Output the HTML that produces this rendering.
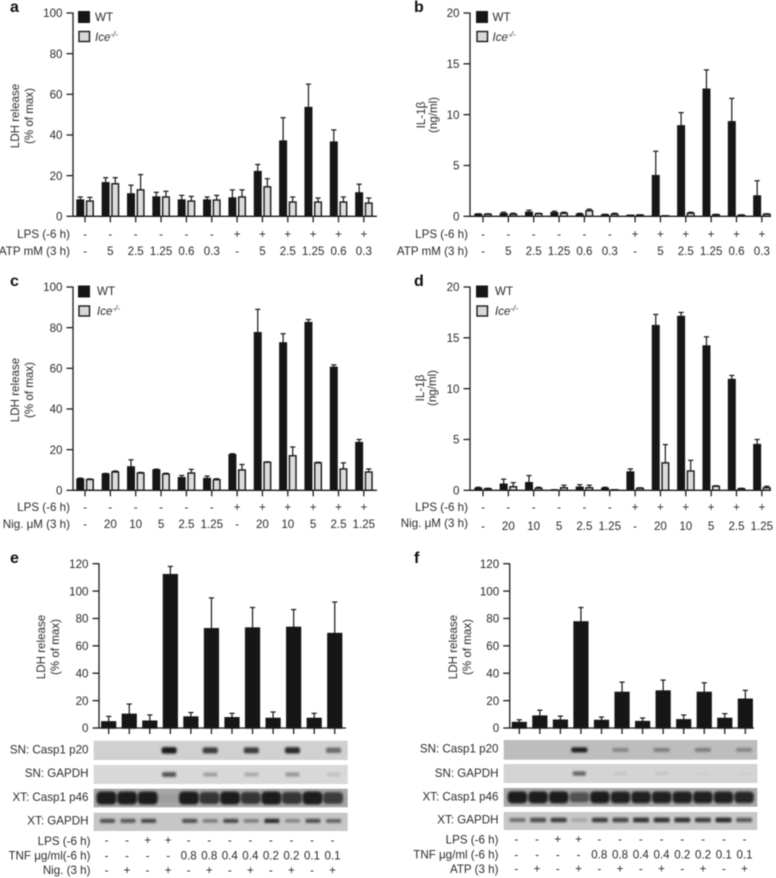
<!DOCTYPE html>
<html lang="en">
<head>
<meta charset="utf-8">
<title>LDH release and IL-1β panels</title>
<style>
html,body{margin:0;padding:0;background:#fff;width:776px;height:878px;overflow:hidden}
svg{display:block;filter:blur(0.5px)}
text{font-family:"Liberation Sans",sans-serif;font-size:11.6px;fill:#2b2b2b}
.letter{font-size:16px;font-weight:bold;fill:#111}
.end{text-anchor:end}
.mid{text-anchor:middle}
</style>
</head>
<body>
<svg id="figure" width="776" height="878" viewBox="0 0 776 878" xmlns="http://www.w3.org/2000/svg">
<defs>
<filter id="soft" x="-50%" y="-100%" width="200%" height="300%"><feGaussianBlur stdDeviation="1"/></filter>
</defs>

<g>
<text class="letter" x="10" y="12">a</text>
<text class="letter" x="414" y="12">b</text>
<text class="letter" x="10" y="286">c</text>
<text class="letter" x="414" y="286">d</text>
<text class="letter" x="10" y="563">e</text>
<text class="letter" x="414" y="563">f</text>
</g>

<g>
<text class="mid" transform="translate(19,116) rotate(-90)">LDH release</text>
<text class="mid" transform="translate(33,116) rotate(-90)">(% of max)</text>
<text class="mid" transform="translate(425,115) rotate(-90)">IL-1β</text>
<text class="mid" transform="translate(437,115) rotate(-90)">(ng/ml)</text>
<text class="mid" transform="translate(19,390) rotate(-90)">LDH release</text>
<text class="mid" transform="translate(33,390) rotate(-90)">(% of max)</text>
<text class="mid" transform="translate(424,388) rotate(-90)">IL-1β</text>
<text class="mid" transform="translate(436,388) rotate(-90)">(ng/ml)</text>
<text class="mid" transform="translate(45,647) rotate(-90)">LDH release</text>
<text class="mid" transform="translate(59,647) rotate(-90)">(% of max)</text>
<text class="mid" transform="translate(457,647) rotate(-90)">LDH release</text>
<text class="mid" transform="translate(471,647) rotate(-90)">(% of max)</text>
</g>

<g>
<rect x="78.5" y="11.5" width="11" height="11" fill="#161616" stroke="#161616"/>
<text x="95" y="21">WT</text>
<rect x="79" y="31.5" width="10.5" height="10" fill="#d9d9d9" stroke="#161616" stroke-width="1.4"/>
<text x="95" y="41" font-style="italic">Ice<tspan dy="-4" font-size="8">-/-</tspan></text>
</g>
<g>
<rect x="476.5" y="11.5" width="11" height="11" fill="#161616" stroke="#161616"/>
<text x="492.5" y="21">WT</text>
<rect x="477" y="31.5" width="10.5" height="10" fill="#d9d9d9" stroke="#161616" stroke-width="1.4"/>
<text x="492.5" y="41" font-style="italic">Ice<tspan dy="-4" font-size="8">-/-</tspan></text>
</g>
<g>
<rect x="78.5" y="286" width="11" height="11" fill="#161616" stroke="#161616"/>
<text x="97" y="295">WT</text>
<rect x="79" y="306" width="10.5" height="10" fill="#d9d9d9" stroke="#161616" stroke-width="1.4"/>
<text x="97" y="315" font-style="italic">Ice<tspan dy="-4" font-size="8">-/-</tspan></text>
</g>
<g>
<rect x="476.5" y="286" width="11" height="11" fill="#161616" stroke="#161616"/>
<text x="495" y="295">WT</text>
<rect x="477" y="306" width="10.5" height="10" fill="#d9d9d9" stroke="#161616" stroke-width="1.4"/>
<text x="495" y="315" font-style="italic">Ice<tspan dy="-4" font-size="8">-/-</tspan></text>
</g>

<g>
<text class="end" x="70" y="238">LPS (-6 h)</text>
<text class="end" x="70" y="255">ATP mM (3 h)</text>
<text class="end" x="468" y="238">LPS (-6 h)</text>
<text class="end" x="468" y="255">ATP mM (3 h)</text>
<text class="end" x="70" y="511">LPS (-6 h)</text>
<text class="end" x="70" y="528">Nig. μM (3 h)</text>
<text class="end" x="468" y="511">LPS (-6 h)</text>
<text class="end" x="468" y="527">Nig. μM (3 h)</text>
<text class="end" x="90.5" y="845">LPS (-6 h)</text>
<text class="end" x="90.5" y="859.5">TNF μg/ml(-6 h)</text>
<text class="end" x="90.5" y="874">Nig. (3 h)</text>
<text class="end" x="498.5" y="843.5">LPS (-6 h)</text>
<text class="end" x="498.5" y="858.5">TNF μg/ml (-6 h)</text>
<text class="end" x="498.5" y="873">ATP (3 h)</text>
</g>

<g>
<text class="end" x="88.5" y="753.5">SN: Casp1 p20</text>
<text class="end" x="88.5" y="777">SN: GAPDH</text>
<text class="end" x="88.5" y="801">XT: Casp1 p46</text>
<text class="end" x="88.5" y="824.5">XT: GAPDH</text>
<text class="end" x="498.5" y="752.5">SN: Casp1 p20</text>
<text class="end" x="498.5" y="777">SN: GAPDH</text>
<text class="end" x="498.5" y="800.5">XT: Casp1 p46</text>
<text class="end" x="498.5" y="823.5">XT: GAPDH</text>
</g>

<g id="marks"></g>
</svg>

<script>
// Chart data
const ticksLdh = [0, 20, 40, 60, 80, 100];
const ticksIl = [0, 5, 10, 15, 20];
const ticksE = [0, 20, 40, 60, 80, 100, 120];

const aWt = [8, 16.5, 11, 9.5, 8, 8, 9, 22, 37, 53.5, 36.5, 11.5];
const aWtTop = [9.5, 19, 15.3, 11.8, 10.3, 9.5, 13, 25.5, 48.5, 65, 42.5, 15.8];
const aIce = [7.5, 16, 13, 9.5, 7.5, 8, 9.5, 14.5, 7, 7, 7, 6.5];
const aIceTop = [9.3, 19, 20.5, 12.3, 9.8, 10.3, 13, 18.5, 9.5, 9, 9.5, 9];

const bWt = [0.2, 0.25, 0.4, 0.35, 0.2, 0.15, 0.1, 4.0, 8.9, 12.5, 9.3, 2.0];
const bWtTop = [0.25, 0.4, 0.6, 0.5, 0.3, 0.2, 0.1, 6.4, 10.2, 14.4, 11.6, 3.5];
const bIce = [0.2, 0.2, 0.25, 0.3, 0.55, 0.2, 0.12, 0.05, 0.3, 0.15, 0.1, 0.2];
const bIceTop = [0.25, 0.3, 0.3, 0.4, 0.7, 0.3, 0.15, 0.05, 0.4, 0.2, 0.15, 0.25];

const cWt = [5.5, 8, 11.5, 10, 6.2, 5.8, 17.5, 77.5, 72.5, 82.5, 60.5, 23.5];
const cWtTop = [6, 8.3, 15, 10.4, 7.3, 7, 18, 89, 77, 84, 61.7, 25];
const cIce = [5.3, 9, 8.5, 8, 8.5, 5.2, 10, 13.8, 17, 13.5, 10.5, 9];
const cIceTop = [5.6, 9.5, 8.8, 8.4, 10.3, 5.7, 12.7, 14, 21.3, 13.8, 13.5, 10.5];

const dWt = [0.2, 0.6, 0.75, 0.03, 0.3, 0.2, 1.8, 16.2, 17.1, 14.2, 10.9, 4.5];
const dWtTop = [0.3, 1.1, 1.45, 0.05, 0.55, 0.3, 2.1, 17.3, 17.5, 15.1, 11.3, 5];
const dIce = [0.15, 0.35, 0.2, 0.25, 0.25, 0.05, 0.2, 2.7, 1.9, 0.4, 0.15, 0.25];
const dIceTop = [0.2, 0.75, 0.3, 0.5, 0.5, 0.05, 0.25, 4.5, 2.95, 0.45, 0.2, 0.4];

const eVals = [4.5, 10, 5, 112, 8, 72.5, 7.5, 73, 7, 73.5, 7, 69];
const eTops = [8.5, 17.5, 9.5, 118, 11.3, 95, 10.7, 88, 11.7, 86.5, 10.7, 92];
const fVals = [4, 8.7, 5.7, 77.5, 5.5, 26, 4.7, 27, 6, 26, 7, 21];
const fTops = [6, 13, 8.7, 88, 8, 33.5, 7.3, 35, 9.5, 33, 10.5, 27.5];

const lpsRow = ['-', '-', '-', '-', '-', '-', '+', '+', '+', '+', '+', '+'];
const atpRow = ['-', '5', '2.5', '1.25', '0.6', '0.3', '-', '5', '2.5', '1.25', '0.6', '0.3'];
const nigRow = ['-', '20', '10', '5', '2.5', '1.25', '-', '20', '10', '5', '2.5', '1.25'];
const lpsRowBlot = ['-', '-', '+', '+', '-', '-', '-', '-', '-', '-', '-', '-'];
const tnfRow = ['-', '-', '-', '-', '0.8', '0.8', '0.4', '0.4', '0.2', '0.2', '0.1', '0.1'];
const stimRow = ['-', '+', '-', '+', '-', '+', '-', '+', '-', '+', '-', '+'];

// Blot band intensities per lane (0 to 1)
const eBlotP20 = [0, 0, 0, 1, 0, 0.8, 0, 0.8, 0, 0.9, 0, 0.55];
const eBlotSnGapdh = [0, 0, 0, 0.7, 0, 0.3, 0, 0.25, 0, 0.35, 0, 0.12];
const eBlotP46 = [1, 1, 1, 0.05, 1, 0.8, 1, 0.8, 1, 0.8, 1, 0.75];
const eBlotXtGapdh = [0.7, 0.65, 0.75, 0, 0.7, 0.45, 0.75, 0.45, 0.9, 0.4, 0.7, 0.6];
const fBlotP20 = [0, 0, 0, 1, 0, 0.35, 0, 0.4, 0, 0.4, 0, 0.35];
const fBlotSnGapdh = [0, 0, 0, 0.6, 0, 0.08, 0, 0.08, 0, 0.03, 0, 0.03];
const fBlotP46 = [1, 1, 1, 0.6, 1, 0.95, 0.95, 0.95, 0.95, 0.95, 0.95, 0.9];
const fBlotXtGapdh = [0.5, 0.7, 0.8, 0.2, 0.8, 0.75, 0.85, 0.85, 0.85, 0.8, 0.9, 0.65];

const NS = 'http://www.w3.org/2000/svg';
const INK = '#161616';
const root = document.getElementById('marks');

function el(parent, tag, attrs, txt) {
  const n = document.createElementNS(NS, tag);
  for (const k in attrs) n.setAttribute(k, attrs[k]);
  if (txt !== undefined) n.textContent = txt;
  parent.appendChild(n);
  return n;
}

function drawAxes(g, o, ticks, xLabelTicks) {
  const yAxis = el(g, 'line', { x1: o.x0, x2: o.x0, y1: o.yTop - 0.5, y2: o.yBase + 0.5, stroke: '#1c1c1c', 'stroke-width': 1.3 });
  
  
  const xAxis = el(g, 'line', { x1: o.x0, x2: o.x1, y1: o.yBase, y2: o.yBase, stroke: '#1c1c1c', 'stroke-width': 1.3 });
  
  
  const maxV = ticks[ticks.length - 1];
  ticks.forEach(function (t) {
    const y = o.yBase - (o.yBase - o.yTop) * t / maxV;
    const tk = el(g, 'line', { x1: o.x0 - 6.5, x2: o.x0, y1: y, y2: y, stroke: '#1c1c1c', 'stroke-width': 1.3 });
    
    
    const lb = el(g, 'text', { x: o.x0 - 10.5, y: y + 4.2, 'text-anchor': 'end' }, String(t));
    
    
  });
  for (let i = 0; i < xLabelTicks; i++) {
    const x = o.tick0 + i * o.step;
    const tk = el(g, 'line', { x1: x, x2: x, y1: o.yBase, y2: o.yBase + 6, stroke: '#1c1c1c', 'stroke-width': 1.3 });
    
    
  }
}

function drawBar(g, cx, w, value, top, o, maxV, fill, name) {
  const sy = function (v) { return o.yBase - (o.yBase - o.yTop) * v / maxV; };
  const eLine = el(g, 'line', { x1: cx, x2: cx, y1: sy(value), y2: sy(top), stroke: INK, 'stroke-width': 1.2 });
  
  
  const cap = el(g, 'line', { x1: cx - 2.6, x2: cx + 2.6, y1: sy(top), y2: sy(top), stroke: INK, 'stroke-width': 1.2 });
  
  
  const r = el(g, 'rect', { x: cx - w / 2, y: sy(value), width: w, height: o.yBase - sy(value), fill: fill, stroke: INK, 'stroke-width': 1.4 });
  
  
}

function drawRow(g, values, x0, step, y) {
  values.forEach(function (v, i) {
    const t = el(g, 'text', { x: x0 + i * step, y: y, 'text-anchor': 'middle' }, v);
    
    
  });
}

function pairedPanel(name, o, ticks, wt, wtTop, ice, iceTop, row1, row2, y1, y2) {
  const g = el(root, 'g', {});
  
  
  const maxV = ticks[ticks.length - 1];
  wt.forEach(function (v, i) {
    const tx = o.tick0 + i * o.step;
    drawBar(g, tx - 4.7, 6.6, v, wtTop[i], o, maxV, '#161616', 'bar-wt');
    drawBar(g, tx + 4.9, 6.6, ice[i], iceTop[i], o, maxV, '#dcdcdc', 'bar-ice');
  });
  drawAxes(g, o, ticks, wt.length);
  drawRow(g, row1, o.tick0, o.step, y1);
  drawRow(g, row2, o.tick0, o.step, y2);
}

function singlePanel(name, o, ticks, vals, tops) {
  const g = el(root, 'g', {});
  
  
  const maxV = ticks[ticks.length - 1];
  vals.forEach(function (v, i) {
    drawBar(g, o.tick0 + i * o.step, 13.8, v, tops[i], o, maxV, '#161616', 'bar-ldh');
  });
  drawAxes(g, o, ticks, vals.length);
}

function blotStrip(name, x, y, w, h, bg, lanes, laneX, laneStep, bandW, bandH, dy) {
  const g = el(root, 'g', {});
  
  
  const clipId = 'clip' + Math.round(x) + '-' + Math.round(y);
  const cp = el(g, 'clipPath', { id: clipId });
  el(cp, 'rect', { x: x, y: y, width: w, height: h });
  const back = el(g, 'rect', { x: x, y: y, width: w, height: h, fill: bg });
  
  
  const inner = el(g, 'g', { 'clip-path': 'url(#' + clipId + ')' });
  lanes.forEach(function (a, i) {
    if (a <= 0) return;
    const bh = bandH * (0.6 + 0.4 * a);
    const band = el(inner, 'rect', {
      x: laneX + i * laneStep - bandW / 2, y: y + h / 2 + dy - bh / 2,
      width: bandW, height: bh, rx: Math.min(bandW, bh) / 3,
      fill: '#1a1a1a', opacity: Math.min(1, a * 1.02), filter: 'url(#soft)'
    });
    
    
  });
}

// Panels
pairedPanel('panel-a', { x0: 73, x1: 377, yTop: 13, yBase: 216.3, tick0: 85, step: 25.35 }, ticksLdh, aWt, aWtTop, aIce, aIceTop, lpsRow, atpRow, 238, 255);
pairedPanel('panel-b', { x0: 470, x1: 771, yTop: 13, yBase: 216.3, tick0: 483, step: 25.35 }, ticksIl, bWt, bWtTop, bIce, bIceTop, lpsRow, atpRow, 238, 255);
pairedPanel('panel-c', { x0: 73, x1: 377, yTop: 287, yBase: 490.3, tick0: 85, step: 25.35 }, ticksLdh, cWt, cWtTop, cIce, cIceTop, lpsRow, nigRow, 511, 528);
pairedPanel('panel-d', { x0: 470, x1: 771, yTop: 287, yBase: 490.3, tick0: 483, step: 25.35 }, ticksIl, dWt, dWtTop, dIce, dIceTop, lpsRow, nigRow, 511, 530);
singlePanel('panel-e', { x0: 99, x1: 346, yTop: 563.7, yBase: 728, tick0: 108.7, step: 20.55 }, ticksE, eVals, eTops);
singlePanel('panel-f', { x0: 509.7, x1: 754, yTop: 563.7, yBase: 728, tick0: 519.3, step: 20.55 }, ticksE, fVals, fTops);

// Blots
blotStrip('blot-e-sn-casp1', 93.7, 740.7, 254, 19.3, '#d0d0d0', eBlotP20, 107.5, 20.55, 15, 6.5, 0);
blotStrip('blot-e-sn-gapdh', 93.7, 765, 254, 19, '#d8d8d8', eBlotSnGapdh, 107.5, 20.55, 14, 5.5, 0);
blotStrip('blot-e-xt-casp1', 93.7, 788.7, 254, 18.6, '#a6a6a6', eBlotP46, 106.5, 20.6, 20, 13, 0);
blotStrip('blot-e-xt-gapdh', 93.7, 812.7, 254, 18.3, '#c6c6c6', eBlotXtGapdh, 107.5, 20.55, 15, 4.5, -1);

blotStrip('blot-f-sn-casp1', 503.7, 740, 253.6, 19.7, '#bdbdbd', fBlotP20, 517.5, 20.6, 16, 5, 0);
blotStrip('blot-f-sn-gapdh', 503.7, 764, 253.6, 19, '#d4d4d4', fBlotSnGapdh, 517.5, 20.6, 13, 5, 0);
blotStrip('blot-f-xt-casp1', 503.7, 788, 253.6, 18.7, '#a8a8a8', fBlotP46, 517.5, 20.6, 19.5, 12, 0);
blotStrip('blot-f-xt-gapdh', 503.7, 812, 253.6, 18, '#c8c8c8', fBlotXtGapdh, 517.5, 20.6, 16, 5, -1);

// Treatment rows beneath the blots
const rowsE = el(root, 'g', {});


drawRow(rowsE, lpsRowBlot, 106.5, 20.55, 844);
drawRow(rowsE, tnfRow, 106.5, 20.55, 859.5);
drawRow(rowsE, stimRow, 106.5, 20.55, 874);

const rowsF = el(root, 'g', {});


drawRow(rowsF, lpsRowBlot, 516.3, 20.75, 843);
drawRow(rowsF, tnfRow, 516.3, 20.75, 858.5);
drawRow(rowsF, stimRow, 516.3, 20.75, 872.5);
</script>
</body>
</html>
